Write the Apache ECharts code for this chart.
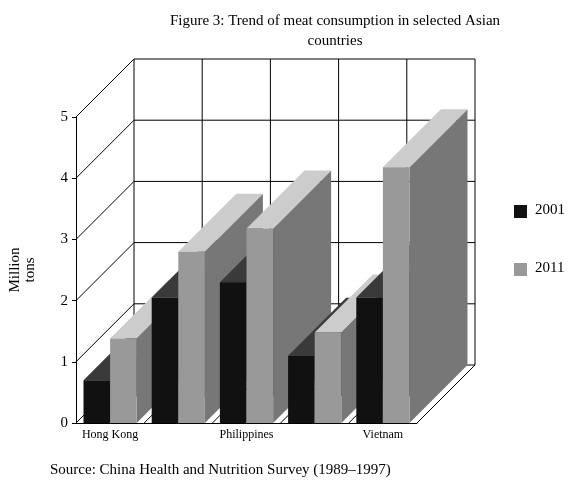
<!DOCTYPE html>
<html><head><meta charset="utf-8">
<script src="https://cdn.jsdelivr.net/npm/echarts@6/dist/echarts.min.js"></script>
<style>body{margin:0}#c{width:576px;height:491px}</style></head>
<body><div id="c"></div>
<script>
const categories = ['Hong Kong','Indonesia','Philippines','Malaysia','Vietnam'];
const v2001 = [0.7, 2.05, 2.3, 1.1, 2.05];
const v2011 = [1.38, 2.8, 3.18, 1.48, 4.18];
const yTicks = [0,1,2,3,4,5];
const DX = 58, DY = -58;
const F = 'Liberation Serif, Times New Roman, serif';
const chart = echarts.init(document.getElementById('c'));
function wall(params, api){
  const band = api.size([1,0])[0];
  const x0 = api.coord([0,0])[0]-band/2, x1 = api.coord([categories.length-1,0])[0]+band/2;
  const y0 = api.coord([0,0])[1], yT = api.coord([0,5])[1];
  const ch = [], ls = {stroke:'#000', lineWidth:1, fill:null};
  const L = (a,b,c,d)=>ch.push({type:'line',shape:{x1:a,y1:b,x2:c,y2:d},style:ls});
  yTicks.forEach(t=>{const y=api.coord([0,t])[1]; L(x0,y,x0+DX,y+DY); L(x0+DX,y+DY,x1+DX,y+DY);});
  for(let i=0;i<=categories.length;i++){const x=x0+i*band; L(x+DX,y0+DY,x+DX,yT+DY); L(x,y0,x+DX,y0+DY);}
  L(x1,y0,x1+DX,y0+DY);
  return {type:'group',children:ch};
}
function bars(params, api){
  const i = api.value(0), band = api.size([1,0])[0], w = band*0.39;
  const cx = api.coord([i,0])[0], y0 = api.coord([i,0])[1];
  const ch=[];
  [[api.value(1),'#111','#3a3a3a','#222',-w],[api.value(2),'#999','#ccc','#777',0]].forEach(([v,cf,ct,cs,off])=>{
    const l = cx+off, r = l+w, t = api.coord([i,v])[1];
    ch.push({type:'polygon',shape:{points:[[r,y0],[r+DX,y0+DY],[r+DX,t+DY],[r,t]]},style:{fill:cs}});
    ch.push({type:'polygon',shape:{points:[[l,t],[r,t],[r+DX,t+DY],[l+DX,t+DY]]},style:{fill:ct}});
    ch.push({type:'rect',shape:{x:l,y:t,width:w,height:y0-t},style:{fill:cf}});
  });
  return {type:'group',children:ch};
}
chart.setOption({
  animation:false,
  title:{text:'Figure 3: Trend of meat consumption in selected Asian\ncountries',left:330,top:6,textAlign:'center',
    textStyle:{fontFamily:F,fontSize:15,fontWeight:'normal',color:'#000',lineHeight:20}},
  grid:{left:70,right:159,top:117,bottom:68},
  xAxis:{type:'category',data:categories,axisLine:{lineStyle:{color:'#000'}},axisTick:{show:false},
    axisLabel:{fontFamily:F,fontSize:12,color:'#000',margin:6}},
  yAxis:{type:'value',min:0,max:5,interval:1,splitLine:{show:false},axisLine:{show:true,lineStyle:{color:'#000'}},
    axisTick:{show:true,length:4,lineStyle:{color:'#000'}},
    axisLabel:{fontFamily:F,fontSize:15,color:'#000'},
    name:'Million\ntons',nameLocation:'middle',nameGap:38,nameRotate:90,nameTextStyle:{fontFamily:F,fontSize:15,color:'#000'}},
  graphic:[
    {type:'rect',left:514,top:205,shape:{width:13,height:13},style:{fill:'#111'}},
    {type:'text',left:535,top:203,style:{text:'2001',font:'15px '+F,fill:'#000'}},
    {type:'rect',left:514,top:263,shape:{width:13,height:13},style:{fill:'#999'}},
    {type:'text',left:535,top:261,style:{text:'2011',font:'15px '+F,fill:'#000'}},
    {type:'text',left:50,top:463,style:{text:'Source: China Health and Nutrition Survey (1989–1997)',font:'15px '+F,fill:'#000'}}
  ],
  series:[
    {type:'custom',renderItem:wall,data:[[0]],clip:false,z:1,silent:true},
    {type:'custom',renderItem:bars,clip:false,z:2,data:categories.map((c,i)=>[i,v2001[i],v2011[i]])}
  ]
});
</script></body></html>
